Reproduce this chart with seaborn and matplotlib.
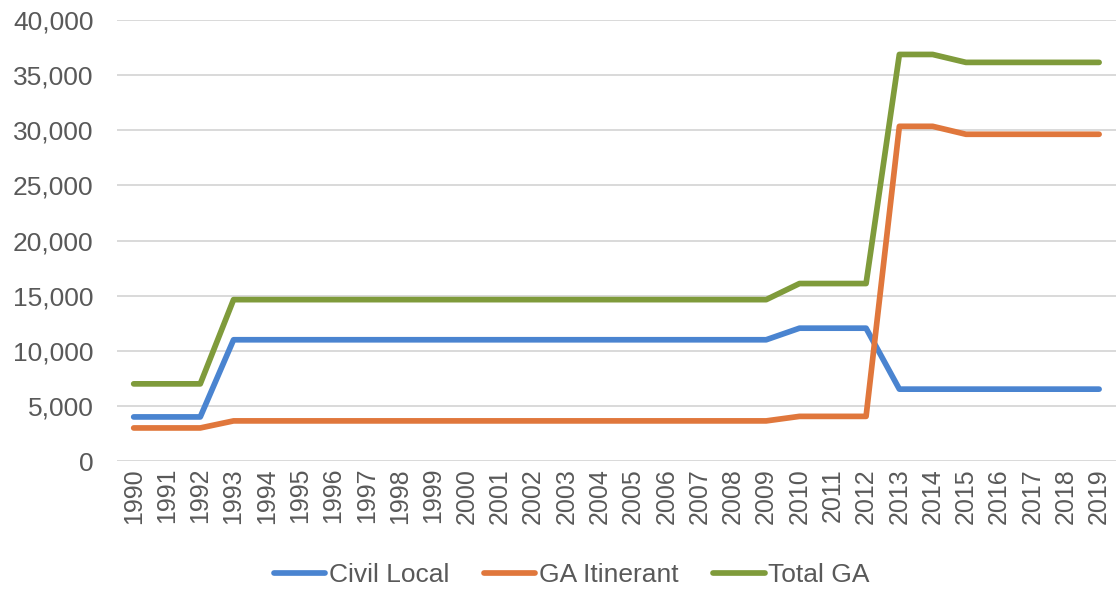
import matplotlib
matplotlib.use("Agg")
import matplotlib.pyplot as plt
import seaborn as sns
import pandas as pd
from matplotlib.ticker import FuncFormatter, FixedLocator

years = list(range(1990, 2020))

civil_local = [4000, 4000, 4000] + [11000] * 17 + [12050] * 3 + [6520] * 7
ga_itinerant = [3000, 3000, 3000] + [3640] * 17 + [4050] * 3 + [30360, 30360] + [29640] * 5
total_ga = [7000, 7000, 7000] + [14640] * 17 + [16100] * 3 + [36880, 36880] + [36160] * 5

series_names = ["Civil Local", "GA Itinerant", "Total GA"]
colors = ["#4A84D0", "#E0773C", "#7F9B3B"]

df = pd.DataFrame({
    "Year": years * 3,
    "Value": civil_local + ga_itinerant + total_ga,
    "Series": sum([[n] * len(years) for n in series_names], []),
})

sns.set_theme(style="white")
plt.rcParams["font.family"] = ["Liberation Sans", "DejaVu Sans"]
text_color = "#595959"

fig = plt.figure(figsize=(11.19, 5.90), dpi=100)
ax = fig.add_axes([0.1046, 0.2186, 0.8925, 0.7474])

sns.lineplot(data=df, x="Year", y="Value", hue="Series", hue_order=series_names,
             palette=colors, linewidth=4.1, ax=ax, legend=True,
             solid_capstyle="round", solid_joinstyle="round")

ax.set_xlim(1989.5, 2019.5)
ax.set_ylim(0, 40000)
ax.yaxis.set_major_locator(FixedLocator(range(0, 40001, 5000)))
ax.yaxis.set_major_formatter(FuncFormatter(lambda v, p: f"{int(v):,}"))
ax.set_xticks(years)
ax.set_xticklabels([str(y) for y in years], rotation=90)

ax.grid(axis="y", color="#D9D9D9", linewidth=1.4)
ax.grid(axis="x", visible=False)
ax.set_axisbelow(True)
for s in ax.spines.values():
    s.set_visible(False)
ax.tick_params(axis="both", length=0, colors=text_color)
ax.tick_params(axis="y", labelsize=19, pad=17)
ax.tick_params(axis="x", labelsize=18, pad=5)
ax.set_xlabel("")
ax.set_ylabel("")

handles, labels = ax.get_legend_handles_labels()
leg = ax.legend(handles, labels, loc="center", ncol=3, frameon=False,
                fontsize=19, handlelength=1.95, handletextpad=0.15, columnspacing=1.3)
leg.set_bbox_to_anchor((0.511, 0.025), transform=fig.transFigure)
for t in leg.get_texts():
    t.set_color(text_color)
for l in leg.get_lines():
    l.set_linewidth(4.1)
    l.set_solid_capstyle("round")

fig.savefig("out.png", dpi=100)
